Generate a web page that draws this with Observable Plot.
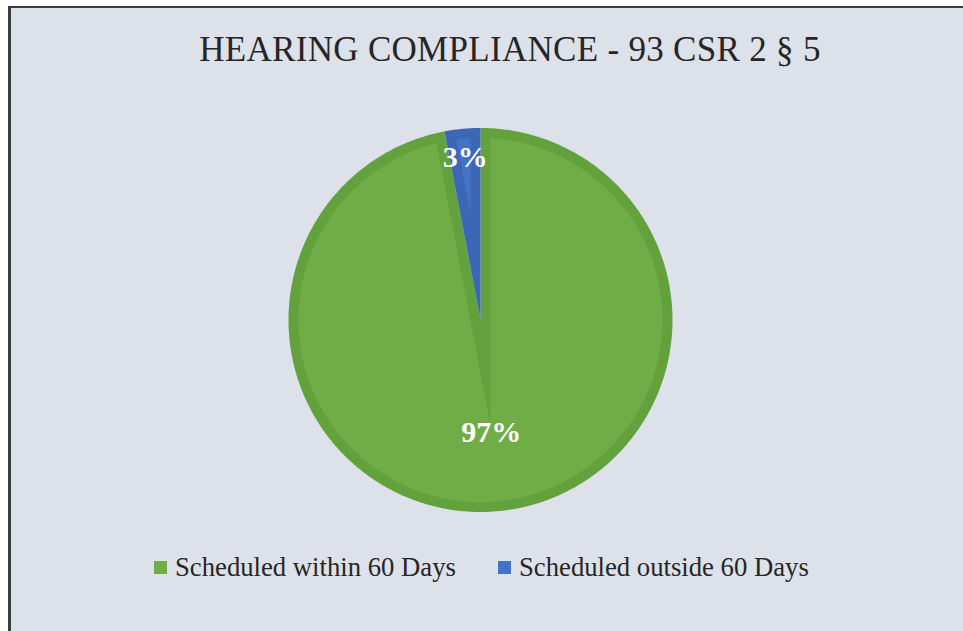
<!DOCTYPE html>
<html>
<head>
<meta charset="utf-8">
<script src="https://cdn.jsdelivr.net/npm/d3@7"></script>
<script src="https://cdn.jsdelivr.net/npm/@observablehq/plot@0.6"></script>
<style>
  html, body { margin: 0; padding: 0; background: #ffffff; width: 963px; height: 631px; overflow: hidden; }
  #frame {
    position: absolute; left: 8px; top: 6px; width: 955px; height: 625px;
    border-top: 2px solid #3c3c3c; border-left: 3px solid #3c3c3c;
    background: #dde1ea; box-sizing: border-box;
    font-family: "Liberation Serif", "DejaVu Serif", serif; color: #262626;
  }
  #title {
    height: 80px; line-height: 84px; font-size: 35px; text-align: center;
    padding-left: 46px; white-space: nowrap; letter-spacing: 0.3px;
  }
  #chart svg { display: block; }
  #legend { position: absolute; top: 544px; left: 0; width: 100%; height: 40px; font-size: 26.7px; }
  .item { position: absolute; top: 0; display: flex; align-items: center; white-space: nowrap; }
  .sw { width: 13px; height: 13px; margin-right: 8px; }
</style>
</head>
<body>
<div id="frame">
  <div id="title"></div>
  <div id="chart"></div>
  <div id="legend"></div>
</div>
<script>
// ---- data ----
const titleText = "HEARING COMPLIANCE - 93 CSR 2 \u00A7 5";
const categories = ["Scheduled within 60 Days", "Scheduled outside 60 Days"];
const shares = [97, 3];
const labels = ["97%", "3%"];
const fillColors = ["#70ad47", "#4472c4"];
const edgeColors = ["#63a13c", "#3c67b6"];
const legendLeft = [143, 487];

// ---- layout ----
const W = 952, H = 440;
const cx = 469, cy = 231.5, R = 192, d = 10;
const labelRadius = [113, 163];

document.getElementById("title").textContent = titleText;

const arcs = d3.pie().sort(null).startAngle(0).endAngle(2 * Math.PI)(shares);

function pt(theta, r) { return [cx + r * Math.sin(theta), cy - r * Math.cos(theta)]; }
function arcPts(a0, a1, r) {
  const n = Math.max(2, Math.ceil((a1 - a0) / (Math.PI / 360)));
  return d3.range(n + 1).map(i => pt(a0 + (a1 - a0) * i / n, r));
}

const outer = [], inner = [], texts = [];
arcs.forEach((a, i) => {
  const a0 = a.startAngle, a1 = a.endAngle, h = (a1 - a0) / 2;
  [[cx, cy], ...arcPts(a0, a1, R)].forEach(([x, y]) => outer.push({x, y, id: i, c: edgeColors[i]}));
  const rr = R - d, del = Math.asin(d / rr);
  const apex = pt(a0 + h, d / Math.sin(h));
  [apex, ...arcPts(a0 + del, a1 - del, rr)].forEach(([x, y]) => inner.push({x, y, id: i, c: fillColors[i]}));
  const [lx, ly] = pt(a0 + h, labelRadius[i]);
  texts.push({x: lx, y: ly, label: labels[i]});
});

const plot = Plot.plot({
  width: W, height: H,
  margin: 0,
  style: {background: "transparent", overflow: "visible"},
  x: {domain: [0, W], range: [0, W], axis: null},
  y: {domain: [0, H], range: [0, H], axis: null},
  color: {type: "identity"},
  marks: [
    Plot.line(outer, {x: "x", y: "y", z: "id", fill: "c", stroke: null, curve: "linear"}),
    Plot.line(inner, {x: "x", y: "y", z: "id", fill: "c", stroke: null, curve: "linear"}),
    Plot.text(texts, {x: "x", y: "y", text: "label", fill: "white", fontSize: 30, fontWeight: "bold",
      fontFamily: "Liberation Serif, DejaVu Serif, serif"})
  ]
});
document.getElementById("chart").appendChild(plot);

const legend = document.getElementById("legend");
categories.forEach((c, i) => {
  const item = document.createElement("div");
  item.className = "item";
  item.style.left = legendLeft[i] + "px";
  const sw = document.createElement("span");
  sw.className = "sw";
  sw.style.background = fillColors[i];
  const t = document.createElement("span");
  t.textContent = c;
  item.appendChild(sw); item.appendChild(t);
  legend.appendChild(item);
});
</script>
</body>
</html>
